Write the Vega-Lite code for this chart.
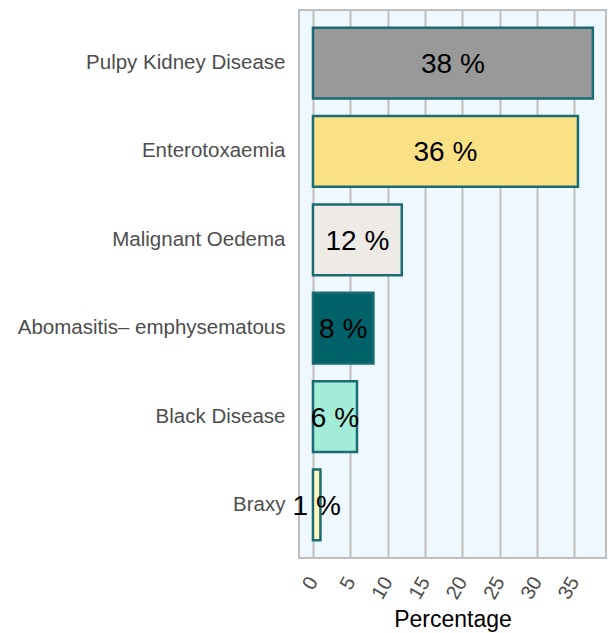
{
  "$schema": "https://vega.github.io/schema/vega-lite/v6.json",
  "autosize": "none",
  "width": 307,
  "height": 548,
  "padding": {"left": 299, "top": 10, "right": 2, "bottom": 75},
  "background": "white",
  "config": {
    "font": "Liberation Sans",
    "view": {"fill": "#F0F8FF", "stroke": "#BEBEBE", "strokeWidth": 2}
  },
  "data": {
    "values": [
      {"disease": "Pulpy Kidney Disease", "pct": 37.5, "label": "38 %", "color": "#999999"},
      {"disease": "Enterotoxaemia", "pct": 35.5, "label": "36 %", "color": "#FBE185"},
      {"disease": "Malignant Oedema", "pct": 11.9, "label": "12 %", "color": "#EEEAE5"},
      {"disease": "Abomasitis– emphysematous", "pct": 8.1, "label": "8 %", "color": "#006169"},
      {"disease": "Black Disease", "pct": 5.9, "label": "6 %", "color": "#A3EDD8"},
      {"disease": "Braxy", "pct": 1.0, "label": "1 %", "color": "#FFF7C2"}
    ]
  },
  "encoding": {
    "y": {
      "field": "disease",
      "type": "nominal",
      "sort": null,
      "scale": {"paddingInner": 0.2, "paddingOuter": 0.2},
      "axis": {
        "title": null,
        "ticks": false,
        "domain": false,
        "labelPadding": 14,
        "labelFontSize": 20.5,
        "labelLimit": 0,
        "labelColor": "#4D4D4D",
        "labelFont": "Liberation Sans"
      }
    }
  },
  "layer": [
    {
      "mark": {"type": "bar", "stroke": "#1A6B73", "strokeWidth": 2.5},
      "encoding": {
        "x": {
          "field": "pct",
          "type": "quantitative",
          "scale": {"domain": [-1.87, 39.26], "nice": false, "zero": false},
          "axis": {
            "title": "Percentage",
            "titleFontSize": 23,
            "titleFontWeight": "normal",
            "titleColor": "black",
            "titleFont": "Liberation Sans",
            "titlePadding": 6,
            "values": [0, 5, 10, 15, 20, 25, 30, 35],
            "labelAngle": -60,
            "labelAlign": "right",
            "labelBaseline": "middle",
            "labelFontSize": 20,
            "labelColor": "#4D4D4D",
            "labelPadding": 20,
            "ticks": false,
            "domain": false,
            "grid": true,
            "gridColor": "#BEBEBE",
            "gridWidth": 2
          }
        },
        "fill": {"field": "color", "type": "nominal", "scale": null}
      }
    },
    {
      "transform": [{"calculate": "datum.pct / 2", "as": "mid"}],
      "mark": {"type": "text", "fontSize": 28, "color": "black", "font": "Liberation Sans", "dy": 2},
      "encoding": {
        "x": {"field": "mid", "type": "quantitative"},
        "text": {"field": "label"}
      }
    }
  ]
}
